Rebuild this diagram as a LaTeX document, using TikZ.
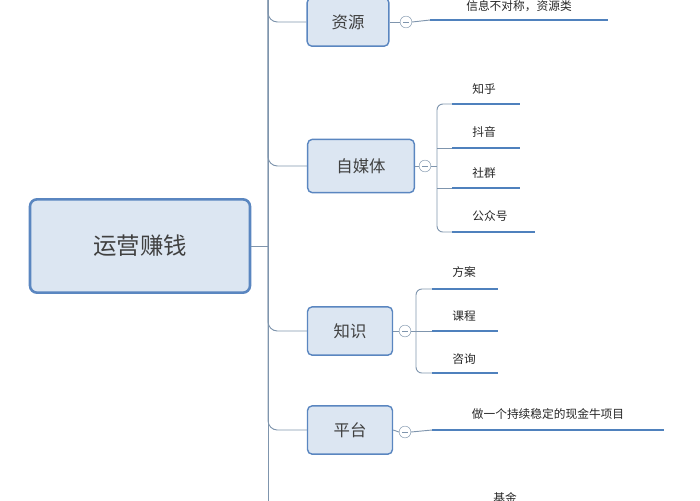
\documentclass[tikz,border=0pt]{standalone}
\usepackage{fontspec}
\setmainfont{Noto Sans CJK SC}
\definecolor{boxfill}{HTML}{DCE6F2}
\definecolor{boxline}{HTML}{5A86C0}
\definecolor{uline}{HTML}{4F81BD}
\definecolor{trunk}{HTML}{7F95AD}
\begin{document}
\begin{tikzpicture} [
    x=0.03cm, y=-0.03cm,
    root/.style={rectangle,rounded corners=6pt,draw=boxline,line width=2.2pt,fill=boxfill,
      minimum width=6.6cm,minimum height=2.8cm,font=\fontsize{20}{24}\selectfont,text=black!75},
    topic/.style={rectangle,rounded corners=4pt,draw=boxline,line width=1.2pt,fill=boxfill,
      minimum height=1.45cm,inner xsep=5pt,font=\fontsize{14}{17}\selectfont,text=black!75},
    leaf/.style={inner sep=1pt,font=\fontsize{10}{12}\selectfont,text=black!85},
    ul/.style={draw=uline,line width=2pt},
    link/.style={draw=trunk,line width=0.8pt},
    fold/.style={circle,draw=trunk,fill=white,inner sep=0pt,minimum size=10pt,
      path picture={\draw[trunk,line width=0.6pt] ([xshift=-2.5pt]path picture bounding box.center) -- ([xshift=2.5pt]path picture bounding box.center);}},
    ]
    \useasboundingbox (0,0) rectangle (700,500);
    \begin{scope}
    \clip (0,0) rectangle (700,500);
    % Root and trunk
    \node[root] (root) at (140,246) {运营赚钱};
    \coordinate (ttop) at (268,-10);
    \coordinate (tbot) at (268,510);
    \draw[link] (root.east) -- (268,246);
    \draw[link] (ttop) -- (tbot);
    % Topics
    \node[topic,minimum width=2.45cm] (res) at (348,22) {资源};
    \node[topic,minimum width=3.2cm,minimum height=1.6cm] (med) at (361,166) {自媒体};
    \node[topic,minimum width=2.55cm] (kno) at (350,331) {知识};
    \node[topic,minimum width=2.55cm] (pla) at (350,430) {平台};
    \foreach \t in {res,med,kno,pla}
      \draw[link,rounded corners=8pt] (268,{0}) |- (\t.west);
    % fold buttons
    \node[fold] (fres) at (406,22) {};
    \node[fold] (fmed) at (425,166) {};
    \node[fold] (fkno) at (405,331) {};
    \node[fold] (fpla) at (405,432) {};
    \draw[link] (res.east) -- (fres.west);
    \draw[link] (med.east) -- (fmed.west);
    \draw[link] (kno.east) -- (fkno.west);
    \draw[link] (pla.east) -- (fpla.west);
    % 资源
    \node[leaf] (info) at (519,6) {信息不对称，资源类};
    \coordinate (infoL) at (430,20); \coordinate (infoR) at (608,20);
    \draw[link] (fres.east) -- (infoL);
    \draw[ul] (infoL) -- (infoR);
    % 自媒体
    \draw[link] (fmed.east) -- (437,166);
    \draw[link,rounded corners=5pt] (452,104) -| (437,232) -- (452,232);
    \foreach \y in {148,188}
      \draw[link] (437,\y) -- (452,\y);
    \node[leaf] (zh) at (484,89) {知乎};
    \node[leaf] (dy) at (484,132) {抖音};
    \node[leaf] (sq) at (484,173) {社群};
    \node[leaf] (gz) at (490,216) {公众号};
    \draw[ul] (452,104) -- (520,104);
    \draw[ul] (452,148) -- (520,148);
    \draw[ul] (452,188) -- (520,188);
    \draw[ul] (452,232) -- (535,232);
    % 知识
    \draw[link] (fkno.east) -- (416,331);
    \draw[link,rounded corners=5pt] (432,289) -| (416,373) -- (432,373);
    \draw[link] (416,331) -- (432,331);
    \node[leaf] (fa) at (464,272) {方案};
    \node[leaf] (kc) at (464,316) {课程};
    \node[leaf] (zx) at (464,359) {咨询};
    \draw[ul] (432,289) -- (498,289);
    \draw[ul] (432,331) -- (498,331);
    \draw[ul] (432,373) -- (498,373);
    % 平台
    \node[leaf] (xm) at (548,414) {做一个持续稳定的现金牛项目};
    \draw[link] (fpla.east) -- (432,430);
    \draw[ul] (432,430) -- (664,430);
    % next branch (cut off)
    \node[leaf] (jj) at (505,498) {基金};
    \end{scope}
  \end{tikzpicture}
\end{document}
